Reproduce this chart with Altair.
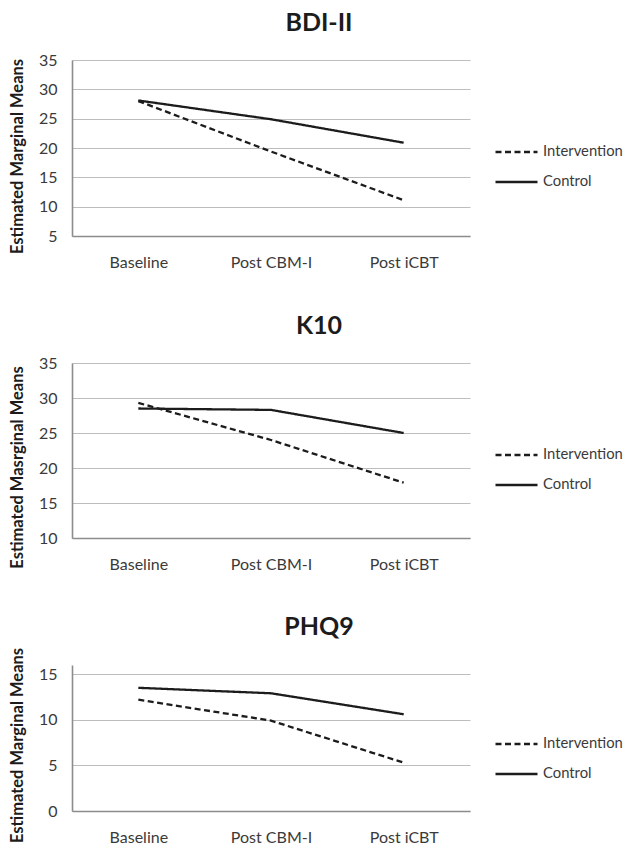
import altair as alt
import pandas as pd

phases = ["Baseline", "Post CBM-I", "Post iCBT"]
groups = ["Intervention", "Control"]

bdi_intervention = [28.0, 19.4, 11.1]
bdi_control = [28.1, 24.9, 20.9]
k10_intervention = [29.3, 24.0, 17.9]
k10_control = [28.5, 28.3, 25.0]
phq9_intervention = [12.2, 9.9, 5.3]
phq9_control = [13.5, 12.9, 10.6]

panel_titles = ["BDI-II", "K10", "PHQ9"]
y_titles = ["Estimated Marginal Means", "Estimated Masrginal Means", "Estimated Marginal Means"]
y_domains = [[5, 35], [10, 35], [0, 16]]
y_ticks = [[5, 10, 15, 20, 25, 30, 35], [10, 15, 20, 25, 30, 35], [0, 5, 10, 15]]

FONT = "Lato"
INK = "#1c1c1c"
TXT = "#3a3a3a"

# layout (not data)
heights = [176, 175, 146]
title_offsets = [16, 16, 7]
legend_ys = [85, 85, 72]
ytitle_ys = [96, 104, 80]


def panel(i, inter, ctrl):
    df = pd.DataFrame({
        "phase": phases * 2,
        "group": [groups[0]] * 3 + [groups[1]] * 3,
        "value": inter + ctrl,
    })
    return alt.Chart(
        df,
        title=alt.TitleParams(
            panel_titles[i], fontSize=25, font=FONT, fontWeight="bold",
            color=INK, anchor="middle", offset=title_offsets[i], dx=48,
        ),
    ).mark_line(strokeWidth=2.3, color=INK).encode(
        x=alt.X(
            "phase:N", sort=phases,
            scale=alt.Scale(type="point", padding=0.5),
            axis=alt.Axis(
                title=None, labelAngle=0, ticks=False, grid=False,
                domainColor="#8c8c8c", domainWidth=1.6,
                labelFont=FONT, labelFontSize=16, labelColor=TXT,
                labelPadding=18,
            ),
        ),
        y=alt.Y(
            "value:Q",
            scale=alt.Scale(domain=y_domains[i], nice=False, zero=False),
            axis=alt.Axis(
                values=y_ticks[i], title=y_titles[i], ticks=False,
                grid=True, gridColor="#bdbdbd", gridWidth=1.2,
                domainColor="#8c8c8c", domainWidth=1.6,
                labelFont=FONT, labelFontSize=16, labelColor=TXT,
                labelPadding=15,
                titleFont=FONT, titleFontSize=16.5, titleFontWeight="bold",
                titleColor=INK, titlePadding=13, titleY=ytitle_ys[i],
            ),
        ),
        strokeDash=alt.StrokeDash(
            "group:N",
            scale=alt.Scale(domain=groups, range=[[6, 3.5], [1, 0]]),
            legend=alt.Legend(
                title=None, orient="none", legendX=422, legendY=legend_ys[i],
                symbolType="stroke", symbolSize=1764, symbolStrokeWidth=2.3,
                symbolStrokeColor=INK, clipHeight=14, rowPadding=15,
                labelFont=FONT, labelFontSize=14.8, labelColor=TXT,
                labelOffset=4, padding=0,
            ),
        ),
    ).properties(width=398, height=heights[i])


chart = alt.vconcat(
    panel(0, bdi_intervention, bdi_control),
    panel(1, k10_intervention, k10_control),
    panel(2, phq9_intervention, phq9_control),
    spacing=127,
    bounds="flush",
).resolve_scale(
    strokeDash="independent"
).resolve_legend(
    strokeDash="independent"
).properties(
    padding={"top": 3, "left": 1, "right": 0, "bottom": -2}
).configure_view(stroke=None)

chart.save("out.html", embed_options={"renderer": "svg", "actions": False})
